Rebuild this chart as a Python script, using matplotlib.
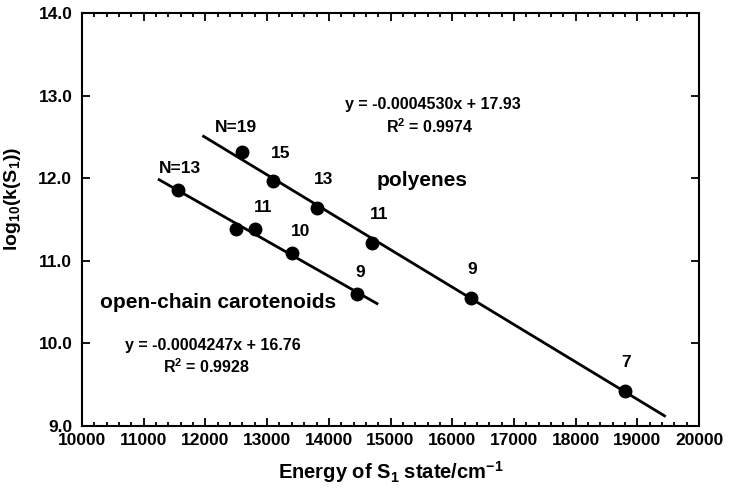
import numpy as np
import matplotlib.pyplot as plt
from matplotlib.ticker import MultipleLocator

plt.rcParams['font.family'] = 'Liberation Sans'
plt.rcParams['font.weight'] = 'bold'
plt.rcParams['mathtext.fontset'] = 'custom'
plt.rcParams['mathtext.rm'] = 'Liberation Sans:bold'
plt.rcParams['mathtext.it'] = 'Liberation Sans:bold'
plt.rcParams['mathtext.bf'] = 'Liberation Sans:bold'

# polyenes
poly_E = [12600, 13100, 13800, 14700, 16300, 18800]
poly_k = [12.32, 11.97, 11.64, 11.22, 10.55, 9.43]
poly_N = ['N=19', '15', '13', '11', '9', '7']
poly_lab_x = [12500, 13220, 13910, 14820, 16320, 18820]
poly_lab_y = [12.62, 12.30, 11.99, 11.56, 10.89, 9.77]

# open-chain carotenoids
car_E = [11560, 12500, 12800, 13400, 14460]
car_k = [11.86, 11.39, 11.38, 11.09, 10.60]
car_N = ['N=13', '11', '10', '9']
car_lab_x = [11580, 12930, 13545, 14505]
car_lab_y = [12.12, 11.64, 11.35, 10.86]

# linear fits
poly_fit = (-0.0004530, 17.93)
poly_range = (11970, 19440)
car_fit = (-0.0004247, 16.76)
car_range = (11250, 14780)

fig = plt.figure(figsize=(7.29, 4.92), dpi=100)
ax = fig.add_axes([0.1125, 0.134, 0.8465, 0.8395])

lw = 2.0
xp = np.array(poly_range)
ax.plot(xp, poly_fit[0] * xp + poly_fit[1], c='k', lw=lw)
xc = np.array(car_range)
ax.plot(xc, car_fit[0] * xc + car_fit[1], c='k', lw=lw)

ax.plot(poly_E, poly_k, 'o', c='k', ms=9)
ax.plot(car_E, car_k, 'o', c='k', ms=9)

for x, y, s in zip(poly_lab_x, poly_lab_y, poly_N):
    ax.text(x, y, s, ha='center', va='center', fontsize=12.5, fontweight='bold')
for x, y, s in zip(car_lab_x, car_lab_y, car_N):
    ax.text(x, y, s, ha='center', va='center', fontsize=12.5, fontweight='bold')

ax.text(14770, 11.97, 'polyenes', ha='left', va='center', fontsize=15, fontweight='bold')
ax.text(12200, 10.50, 'open-chain carotenoids', ha='center', va='center', fontsize=15, fontweight='bold')

ax.text(15690, 12.89, 'y = -0.0004530x + 17.93', ha='center', va='center', fontsize=11.5, fontweight='bold')
ax.text(15640, 12.62, 'R$^2$ = 0.9974', ha='center', va='center', fontsize=11.5, fontweight='bold')
ax.text(12115, 9.98, 'y = -0.0004247x + 16.76', ha='center', va='center', fontsize=11.5, fontweight='bold')
ax.text(12020, 9.72, 'R$^2$ = 0.9928', ha='center', va='center', fontsize=11.5, fontweight='bold')

ax.set_xlim(10000, 20000)
ax.set_ylim(9.0, 14.0)
ax.xaxis.set_major_locator(MultipleLocator(1000))
ax.xaxis.set_minor_locator(MultipleLocator(200))
ax.set_yticks(np.arange(9, 14.1, 1.0))
ax.set_yticklabels([f'{v:.1f}' for v in np.arange(9, 14.1, 1.0)])

ax.tick_params(which='both', direction='in', top=True, right=True, width=1.3, labelsize=12.5)
ax.tick_params(which='major', length=6)
ax.tick_params(which='minor', length=3)
ax.tick_params(axis='x', pad=5)
ax.tick_params(axis='y', pad=7)
for sp in ax.spines.values():
    sp.set_linewidth(1.5)

ax.set_xlabel(r'Energy of S$_1$ state/cm$^{-1}$', fontsize=14.5, fontweight='bold', labelpad=8)
ax.set_ylabel(r'log$_{10}$(k(S$_1$))', fontsize=14, fontweight='bold')
ax.yaxis.set_label_coords(-0.095, 0.55)

fig.savefig('out.png', dpi=100)
